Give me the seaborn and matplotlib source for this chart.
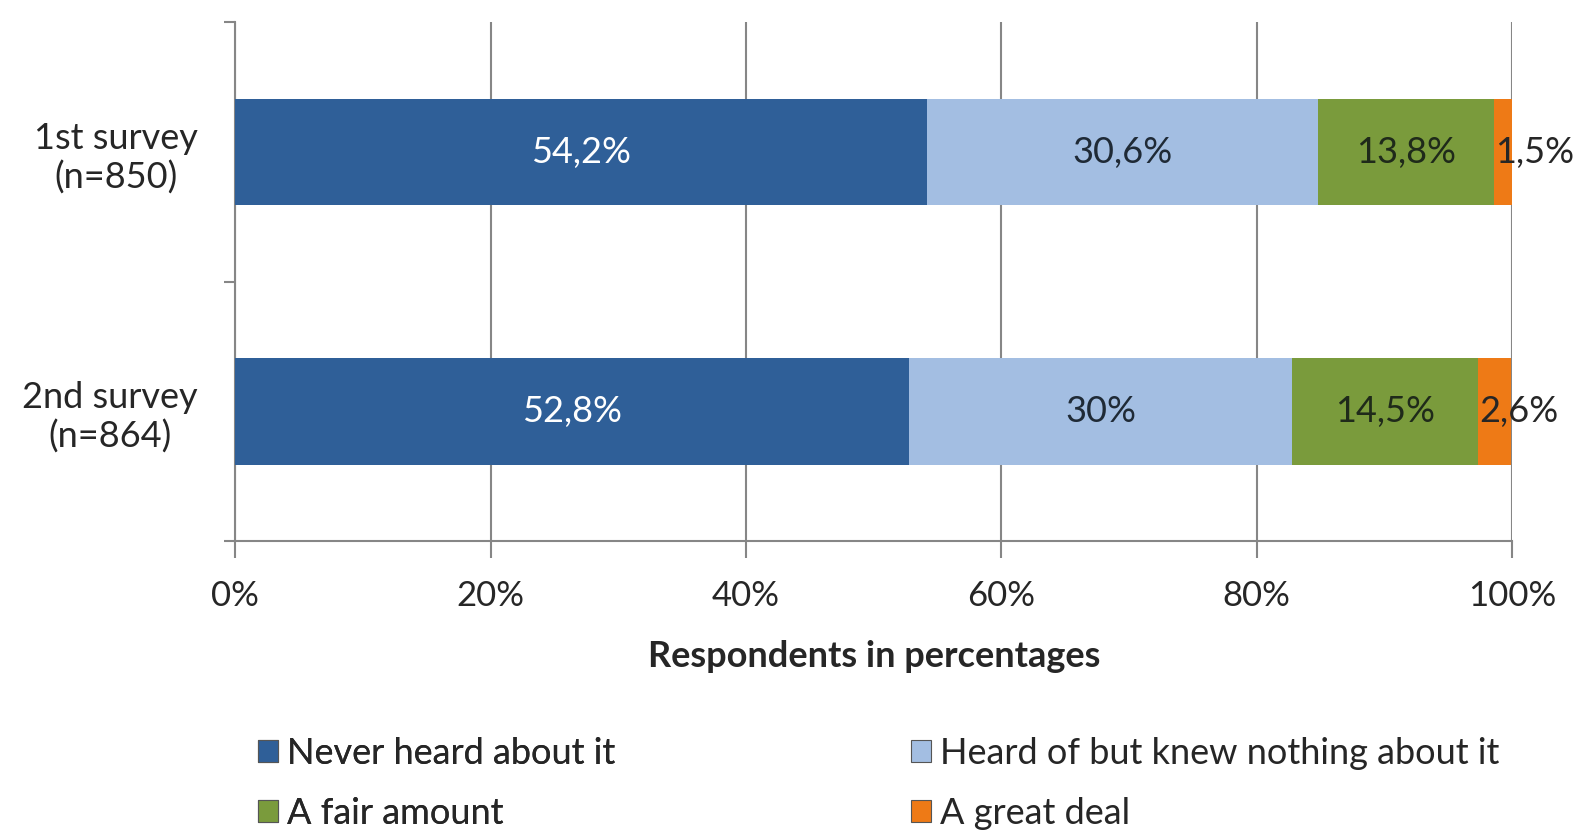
import numpy as np
import matplotlib
matplotlib.use("Agg")
import matplotlib.pyplot as plt
import seaborn as sns
from matplotlib.patches import Patch

# Data
surveys = ['1st survey\n(n=850)', '2nd survey\n(n=864)']
never_heard = [54.2, 52.8]
heard_nothing = [30.6, 30.0]
fair_amount = [13.8, 14.5]
great_deal = [1.5, 2.6]
series_names = ['Never heard about it', 'Heard of but knew nothing about it',
                'A fair amount', 'A great deal']
colors = ['#2F5F98', '#A3BEE2', '#7A9B3C', '#EE7A16']
text_colors = ['white', '#1F2A36', '#1F2A1A', '#262626']
x_ticks = [0, 20, 40, 60, 80, 100]

sns.set_style("white")
plt.rcParams['font.family'] = ['Lato', 'DejaVu Sans']

fig = plt.figure(figsize=(15.84, 8.3), dpi=100)
ax = fig.add_axes([0.1486, 0.348, 0.806, 0.625])

series = [never_heard, heard_nothing, fair_amount, great_deal]
cums = np.cumsum(np.array(series), axis=0)

# stacked bars: draw cumulative totals from the largest down
for i in range(len(series) - 1, -1, -1):
    sns.barplot(x=cums[i], y=surveys, orient='h', color=colors[i], saturation=1,
                width=0.41, ax=ax, linewidth=0, zorder=3)

# value labels
for i, vals in enumerate(series):
    for j, v in enumerate(vals):
        txt = f"{v:g}".replace('.', ',') + '%'
        start = cums[i][j] - v
        if v < 5:
            ax.text(start + 0.1, j, txt, ha='left', va='center', fontsize=26,
                    color=text_colors[i], zorder=5)
        else:
            ax.text(start + v / 2, j, txt, ha='center', va='center', fontsize=26,
                    color=text_colors[i], zorder=5)

ax.set_xlim(0, 100)
ax.set_ylim(1.5, -0.5)
ax.set_xticks(x_ticks)
ax.set_xticklabels([f"{t}%" for t in x_ticks], fontsize=25, color='#262626')
ax.xaxis.grid(True, color='#868686', linewidth=1.5, zorder=0)
ax.set_axisbelow(True)

for s in ['top', 'right']:
    ax.spines[s].set_visible(False)
for s in ['left', 'bottom']:
    ax.spines[s].set_color('#868686')
    ax.spines[s].set_linewidth(1.5)

ax.tick_params(axis='x', bottom=True, length=12, width=1.5, color='#868686', pad=16)
ax.set_yticks([-0.5, 0.5, 1.5], minor=True)
ax.tick_params(axis='y', which='minor', left=True, length=8, width=1.5, color='#868686')
ax.tick_params(axis='y', which='major', left=False, length=0, pad=27, labelsize=26,
               labelcolor='#262626')
for lab in ax.get_yticklabels():
    lab.set_multialignment('center')
ax.set_ylabel('')
ax.set_xlabel('Respondents in percentages', fontsize=26, fontweight='bold',
              color='#262626', labelpad=20)

handles = [Patch(facecolor=c, edgecolor='#555555', linewidth=0.8) for c in colors]
leg_kw = dict(loc='upper left', frameon=False, fontsize=26, handlelength=0.55,
              handleheight=0.55, handletextpad=0.25, labelspacing=0.75,
              borderaxespad=0, borderpad=0)
leg1 = fig.legend([handles[0], handles[2]], [series_names[0], series_names[2]],
                  bbox_to_anchor=(0.163, 0.112), **leg_kw)
fig.add_artist(leg1)
fig.legend([handles[1], handles[3]], [series_names[1], series_names[3]],
           bbox_to_anchor=(0.575, 0.112), **leg_kw)

fig.savefig('out.png', dpi=100)
